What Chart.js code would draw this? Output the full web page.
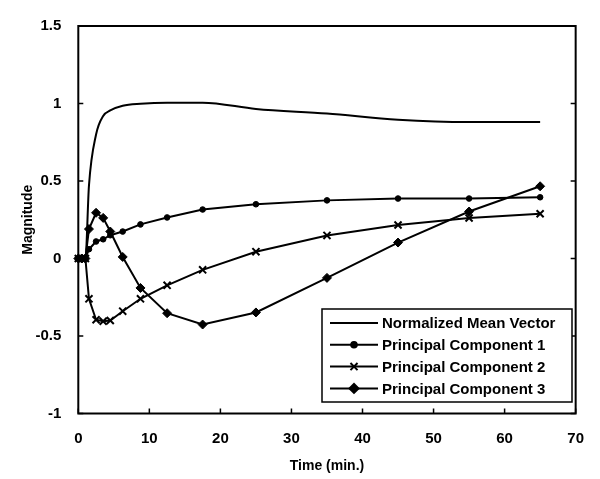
<!DOCTYPE html>
<html>
<head>
<meta charset="utf-8">
<script src="https://cdn.jsdelivr.net/npm/chart.js@4/dist/chart.umd.min.js"></script>
<style>
  html, body { margin: 0; padding: 0; background: #fff; }
  #wrap { width: 600px; height: 479px; }
</style>
</head>
<body>
<div id="wrap"><canvas id="myChart" width="600" height="479"></canvas></div>
<script>
// Data
const times = [0, 0.5, 1, 1.5, 2.5, 3.5, 4.5, 6.25, 8.75, 12.5, 17.5, 25, 35, 45, 55, 65];
const meanVector = [0, 0, 0, 0.47, 0.80, 0.92, 0.955, 0.985, 0.998, 1.005, 1.005, 0.965, 0.935, 0.895, 0.88, 0.88];
const pc1 = [0, 0, 0, 0.06, 0.11, 0.124, 0.15, 0.174, 0.22, 0.265, 0.316, 0.35, 0.375, 0.387, 0.387, 0.395];
const pc2 = [0, 0, 0, -0.26, -0.395, -0.405, -0.40, -0.34, -0.26, -0.173, -0.073, 0.044, 0.149, 0.216, 0.261, 0.289];
const pc3 = [0, 0, 0, 0.19, 0.295, 0.262, 0.174, 0.01, -0.19, -0.353, -0.426, -0.348, -0.125, 0.103, 0.303, 0.466];
const seriesNames = ['Normalized Mean Vector', 'Principal Component 1', 'Principal Component 2', 'Principal Component 3'];
const xTicks = [0, 10, 20, 30, 40, 50, 60, 70];
const yTicks = [-1, -0.5, 0, 0.5, 1, 1.5];

const FONT = '"Liberation Sans", Arial, sans-serif';

function pts(vals) {
  return times.map((t, i) => ({ x: t, y: vals[i] }));
}

// frame, inside tick marks and the boxed legend
const decorations = {
  id: 'decorations',
  afterDraw(chart) {
    const ctx = chart.ctx;
    const a = chart.chartArea;
    const xs = chart.scales.x, ys = chart.scales.y;
    ctx.save();
    ctx.strokeStyle = '#000';
    ctx.lineWidth = 2;
    ctx.strokeRect(a.left, a.top, a.right - a.left, a.bottom - a.top);
    ctx.lineWidth = 1.5;
    ctx.beginPath();
    yTicks.forEach(v => {
      const y = ys.getPixelForValue(v);
      ctx.moveTo(a.left, y); ctx.lineTo(a.left + 5, y);
      ctx.moveTo(a.right, y); ctx.lineTo(a.right - 5, y);
    });
    xTicks.forEach(v => {
      const x = xs.getPixelForValue(v);
      ctx.moveTo(x, a.bottom); ctx.lineTo(x, a.bottom - 5);
    });
    ctx.stroke();

    // legend
    const bx = 322, by = 309, bw = 250, bh = 93;
    ctx.fillStyle = '#fff';
    ctx.fillRect(bx, by, bw, bh);
    ctx.lineWidth = 1.5;
    ctx.strokeRect(bx, by, bw, bh);
    ctx.font = 'bold 15px ' + FONT;
    ctx.textBaseline = 'middle';
    chart.data.datasets.forEach((ds, i) => {
      const y = 323 + i * 21.8;
      ctx.strokeStyle = '#000';
      ctx.lineWidth = 2;
      ctx.beginPath();
      ctx.moveTo(330, y); ctx.lineTo(378, y);
      ctx.stroke();
      ctx.fillStyle = '#000';
      if (ds.pointRadius > 0) {
        Chart.helpers.drawPoint(ctx, {
          pointStyle: ds.pointStyle,
          radius: ds.pointRadius,
          borderWidth: ds.pointBorderWidth || 1
        }, 354, y);
      }
      ctx.fillStyle = '#000';
      ctx.fillText(ds.label, 382, y + 1);
    });
    ctx.restore();
  }
};

const data = {
  datasets: [{
    label: seriesNames[0],
    data: pts(meanVector),
    borderColor: '#000',
    borderWidth: 2,
    pointRadius: 0,
    cubicInterpolationMode: 'monotone',
    clip: false
  }, {
    label: seriesNames[1],
    data: pts(pc1),
    borderColor: '#000',
    backgroundColor: '#000',
    borderWidth: 2,
    pointStyle: 'circle',
    pointRadius: 2.8,
    pointBorderWidth: 1,
    clip: false
  }, {
    label: seriesNames[2],
    data: pts(pc2),
    borderColor: '#000',
    backgroundColor: '#000',
    borderWidth: 2,
    pointStyle: 'crossRot',
    pointRadius: 5,
    pointBorderWidth: 2,
    clip: false
  }, {
    label: seriesNames[3],
    data: pts(pc3),
    borderColor: '#000',
    backgroundColor: '#000',
    borderWidth: 2,
    pointStyle: 'rectRot',
    pointRadius: 4.5,
    pointBorderWidth: 1,
    clip: false
  }]
};

const config = {
  type: 'line',
  data,
  options: {
    responsive: false,
    animation: false,
    layout: { padding: { left: 16, right: 15, top: 15, bottom: 0 } },
    plugins: {
      legend: { display: false },
      tooltip: { enabled: false }
    },
    scales: {
      x: {
        type: 'linear',
        min: 0, max: 70,
        afterFit(scale) { scale.height = 65.5; },
        afterBuildTicks(scale) { scale.ticks = xTicks.map(v => ({ value: v })); },
        grid: { display: false, drawTicks: false },
        border: { display: false },
        ticks: { color: '#000', padding: 16, font: { family: FONT, size: 15, weight: 'bold' } },
        title: { display: true, text: 'Time (min.)', color: '#000', padding: { top: 4, bottom: 4 }, font: { family: FONT, size: 14, weight: 'bold' } }
      },
      y: {
        type: 'linear',
        min: -1, max: 1.5,
        afterFit(scale) { scale.width = 62.3; },
        afterBuildTicks(scale) { scale.ticks = yTicks.map(v => ({ value: v })); },
        grid: { display: false, drawTicks: false },
        border: { display: false },
        ticks: {
          color: '#000', padding: 17, font: { family: FONT, size: 15, weight: 'bold' },
          callback: v => String(v)
        },
        title: { display: true, text: 'Magnitude', color: '#000', padding: { top: 4, bottom: 6 }, font: { family: FONT, size: 14, weight: 'bold' } }
      }
    }
  },
  plugins: [decorations]
};

var myChart = new Chart(document.getElementById('myChart'), config);
</script>
</body>
</html>
